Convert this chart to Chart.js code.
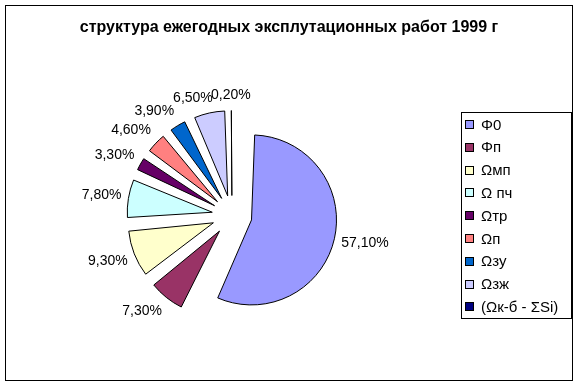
<!DOCTYPE html>
<html>
<head>
<meta charset="utf-8">
<script src="https://cdn.jsdelivr.net/npm/chart.js@4/dist/chart.umd.min.js"></script>
<style>
  html, body { margin: 0; padding: 0; background: #fff; }
  #wrap { width: 580px; height: 387px; }
</style>
</head>
<body>
<div id="wrap"><canvas id="myChart" width="580" height="387"></canvas></div>
<script>
const title = "структура ежегодных эксплутационных работ 1999 г";
const labels = ["Φ0", "Φп", "Ωмп", "Ω пч", "Ωтр", "Ωп", "Ωзу", "Ωзж", "(Ωк-б - ΣSi)"];
const shares = [57.1, 7.3, 9.3, 7.8, 3.3, 4.6, 3.9, 6.5, 0.2];
const colors = ["#9999FF", "#993366", "#FFFFCC", "#CCFFFF", "#660066",
  "#FF8080", "#0066CC", "#CCCCFF", "#000080"];

const R = 85;        // pie radius
const OFFSET = 80;   // chart.js translates slices by offset / 4
const FONT = '"Liberation Sans", Arial, sans-serif';

function pctText(v) {
  return v.toFixed(2).replace(".", ",") + "%";
}

function clamp(v) {
  return Math.max(-1, Math.min(1, v));
}

// keep every exploded slice the same radius (chart.js grows them by offset)
const evenRadius = {
  id: "evenRadius",
  afterDatasetsUpdate(chart) {
    chart.getDatasetMeta(0).data.forEach((arc) => {
      const off = (arc.options.offset || 0) / 4;
      const fix = 1 - Math.sin(Math.min(Math.PI, arc.circumference));
      arc.outerRadius = R - off * fix;
    });
  },
};

// excel-like outside labels: the box corner sits just past the slice edge
const sliceLabels = {
  id: "sliceLabels",
  afterDatasetsDraw(chart) {
    const ctx = chart.ctx;
    const meta = chart.getDatasetMeta(0);
    ctx.save();
    ctx.font = "14px " + FONT;
    ctx.fillStyle = "#000";
    ctx.textAlign = "center";
    ctx.textBaseline = "middle";
    meta.data.forEach((arc, i) => {
      const mid = (arc.startAngle + arc.endAngle) / 2;
      const dx = Math.cos(mid);
      const dy = Math.sin(mid);
      const text = pctText(shares[i]);
      const w = ctx.measureText(text).width;
      const d = OFFSET / 4 + R + 7;
      const cx = arc.x + dx * d + clamp(dx * 3.5) * w / 2;
      const cy = arc.y + dy * d + clamp(dy * 1.5) * 8;
      ctx.fillText(text, cx, cy);
    });
    ctx.restore();
  },
};

const frame = {
  id: "frame",
  afterDraw(chart) {
    const ctx = chart.ctx;
    const ds = chart.data.datasets[0];
    ctx.save();
    // outer border
    ctx.strokeStyle = "#000";
    ctx.lineWidth = 1;
    ctx.strokeRect(5.5, 5.5, 567, 375);

    // title
    ctx.fillStyle = "#000";
    ctx.font = "bold 16px " + FONT;
    ctx.textAlign = "center";
    ctx.textBaseline = "middle";
    ctx.fillText(title, 289, 28);

    // legend
    ctx.strokeRect(461.5, 112.5, 110, 206);
    ctx.font = "15px " + FONT;
    ctx.textAlign = "left";
    chart.data.labels.forEach((lab, i) => {
      const y = 125 + i * 22.8;
      ctx.fillStyle = ds.backgroundColor[i];
      ctx.fillRect(465, Math.round(y) - 4, 8, 8);
      ctx.strokeRect(465.5, Math.round(y) - 4.5, 8, 8);
      ctx.fillStyle = "#000";
      ctx.fillText(lab, 481, y + 0.5);
    });
    ctx.restore();
  },
};

const chart = new Chart("myChart", {
  type: "pie",
  data: {
    labels: labels,
    datasets: [
      {
        data: shares,
        backgroundColor: colors,
        borderColor: "#000",
        borderWidth: 1,
        offset: OFFSET,
      },
    ],
  },
  options: {
    responsive: false,
    animation: false,
    events: [],
    radius: R,
    layout: { padding: { left: 100, right: 216, top: 100, bottom: 56 } },
    plugins: {
      legend: { display: false },
      title: { display: false },
      tooltip: { enabled: false },
    },
  },
  plugins: [evenRadius, sliceLabels, frame],
});
</script>
</body>
</html>
